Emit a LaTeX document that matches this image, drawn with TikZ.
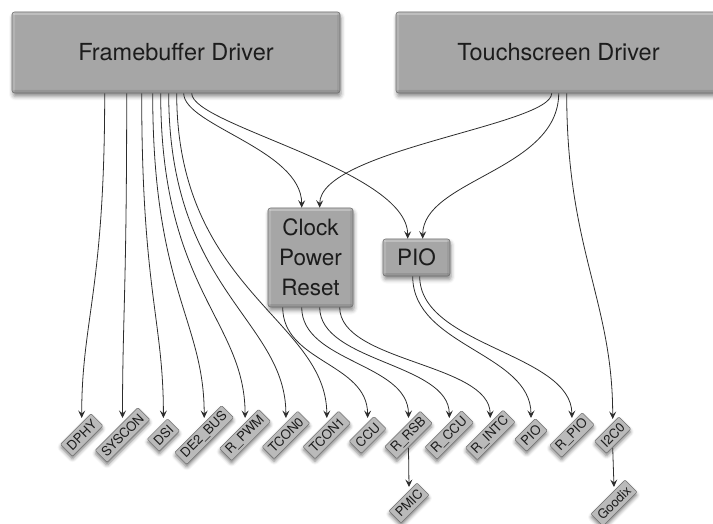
\documentclass[tikz,border=0pt]{standalone}
\usepackage{fontspec}
\setmainfont{TeX Gyre Heros}
\usetikzlibrary{arrows.meta,shadows.blur}

\definecolor{boxfill}{RGB}{166,166,166}
\definecolor{boxline}{RGB}{112,112,112}
\definecolor{leaffill}{RGB}{186,186,186}
\definecolor{edgecol}{RGB}{45,45,45}
\definecolor{txtcol}{RGB}{28,28,28}

\begin{document}
\begin{tikzpicture}[x=1pt,y=-1pt,
  bevel/.style={path picture={
    \fill[white,opacity=0.28] (path picture bounding box.north west) rectangle ([yshift=-3pt]path picture bounding box.north east);
    \fill[white,opacity=0.15] (path picture bounding box.north west) rectangle ([xshift=3pt]path picture bounding box.south west);
    \fill[black,opacity=0.10] (path picture bounding box.south west) rectangle ([yshift=3pt]path picture bounding box.south east);
    \fill[black,opacity=0.06] (path picture bounding box.north east) rectangle ([xshift=-3pt]path picture bounding box.south east);}},
  bigbox/.style={draw=boxline, fill=boxfill, rounded corners=2.5pt, line width=0.6pt, bevel,
    blur shadow={shadow xshift=1pt,shadow yshift=-3.5pt,shadow blur radius=4pt,shadow opacity=45},
    text=txtcol, inner sep=0pt, align=center},
  leaf/.style={draw=boxline, fill=leaffill, rounded corners=1pt, line width=0.5pt, rotate=45,
    blur shadow={shadow xshift=0pt,shadow yshift=-3pt,shadow blur radius=3.5pt,shadow opacity=50},
    font=\fontsize{13}{15}\selectfont, text=txtcol, inner xsep=3.5pt, inner ysep=0pt, minimum height=17pt},
  conn/.style={draw=edgecol, line width=0.8pt, -{Stealth[length=7.5pt,width=7pt,inset=3pt]}},
  bigfont/.style={font=\fontsize{23.5}{30}\selectfont},
  midfont/.style={font=\fontsize{22.5}{30}\selectfont},
]
\useasboundingbox (0,0) rectangle (713,524);
\clip (0,0) rectangle (713,524);

% main boxes
\node[bigbox, bigfont, minimum width=328pt, minimum height=81pt] (fb) at (176,52.5) {Framebuffer Driver};
\node[bigbox, bigfont, minimum width=325pt, minimum height=81pt] (ts) at (558.5,52.5) {Touchscreen Driver};
\node[bigbox, midfont, minimum width=85pt, minimum height=99pt] (cpr) at (310.5,257.5) {Clock\\Power\\Reset};
\node[bigbox, midfont, minimum width=67pt, minimum height=37pt] (pio) at (416.5,257.5) {PIO};

% leaves
\node[leaf] (dphy)   at (81.7,435)  {DPHY};
\node[leaf] (syscon) at (122.5,435) {SYSCON};
\node[leaf] (dsi)    at (163.4,435) {DSI};
\node[leaf] (de2)    at (204.2,435) {DE2\_BUS};
\node[leaf] (rpwm)   at (245.1,435) {R\_PWM};
\node[leaf] (tcon0)  at (285.9,435) {TCON0};
\node[leaf] (tcon1)  at (326.8,435) {TCON1};
\node[leaf] (ccu)    at (367.6,435) {CCU};
\node[leaf] (rrsb)   at (408.5,435) {R\_RSB};
\node[leaf] (rccu)   at (449.3,435) {R\_CCU};
\node[leaf] (rintc)  at (490.2,435) {R\_INTC};
\node[leaf] (pioleaf) at (531,435)  {PIO};
\node[leaf] (rpio)   at (571.9,435) {R\_PIO};
\node[leaf] (itwoc)  at (612.7,435) {I2C0};
\node[leaf] (pmic)   at (409,503) {PMIC};
\node[leaf] (goodix) at (614,503) {Goodix};

% framebuffer -> leaves
\draw[conn] ([xshift=93pt]fb.south west)  .. controls +(0,197) and +(0,-98) .. ([yshift=17pt]dphy.center);
\draw[conn] ([xshift=115pt]fb.south west) .. controls +(0,197) and +(0,-98) .. ([yshift=17pt]syscon.center);
\draw[conn] ([xshift=130pt]fb.south west) .. controls +(0,197) and +(0,-98) .. ([yshift=17pt]dsi.center);
\draw[conn] ([xshift=141pt]fb.south west) .. controls +(0,197) and +(0,-98) .. ([yshift=17pt]de2.center);
\draw[conn] ([xshift=149pt]fb.south west) .. controls +(0,197) and +(0,-98) .. ([yshift=17pt]rpwm.center);
\draw[conn] ([xshift=157pt]fb.south west) .. controls +(0,197) and +(0,-98) .. ([yshift=17pt]tcon0.center);
\draw[conn] ([xshift=165pt]fb.south west) .. controls +(0,197) and +(0,-98) .. ([yshift=17pt]tcon1.center);

% framebuffer / touchscreen -> CPR, PIO
\draw[conn] ([xshift=172pt]fb.south west) .. controls +(0,32) and +(0,-58) .. ([xshift=34pt]cpr.north west);
\draw[conn] ([xshift=180pt]fb.south west) .. controls +(0,32) and +(0,-69) .. ([xshift=25pt]pio.north west);
\draw[conn] ([xshift=156pt]ts.south west) .. controls +(0,32) and +(0,-58) .. ([xshift=52pt]cpr.north west);
\draw[conn] ([xshift=163pt]ts.south west) .. controls +(0,77) and +(0,-59) .. ([xshift=40pt]pio.north west);
\draw[conn] ([xshift=171pt]ts.south west) .. controls +(0,157) and +(0,-119) .. ([yshift=16pt]itwoc.center);

% CPR -> leaves
\draw[conn] ([xshift=15pt]cpr.south west) .. controls +(0,55) and +(0,-55) .. ([yshift=17pt]ccu.center);
\draw[conn] ([xshift=34pt]cpr.south west) .. controls +(0,55) and +(0,-55) .. ([yshift=17pt]rrsb.center);
\draw[conn] ([xshift=52pt]cpr.south west) .. controls +(0,55) and +(0,-55) .. ([yshift=17pt]rccu.center);
\draw[conn] ([xshift=72pt]cpr.south west) .. controls +(0,55) and +(0,-55) .. ([yshift=17pt]rintc.center);

% PIO -> leaves
\draw[conn] ([xshift=30pt]pio.south west) .. controls +(0,70) and +(0,-65) .. ([yshift=17pt]pioleaf.center);
\draw[conn] ([xshift=37pt]pio.south west) .. controls +(0,70) and +(0,-65) .. ([yshift=17pt]rpio.center);

% second level
\draw[conn] ([yshift=-13pt]rrsb.center) -- ([yshift=16pt]pmic.center);
\draw[conn] ([yshift=-13pt]itwoc.center) -- ([yshift=16pt]goodix.center);
\end{tikzpicture}
\end{document}
